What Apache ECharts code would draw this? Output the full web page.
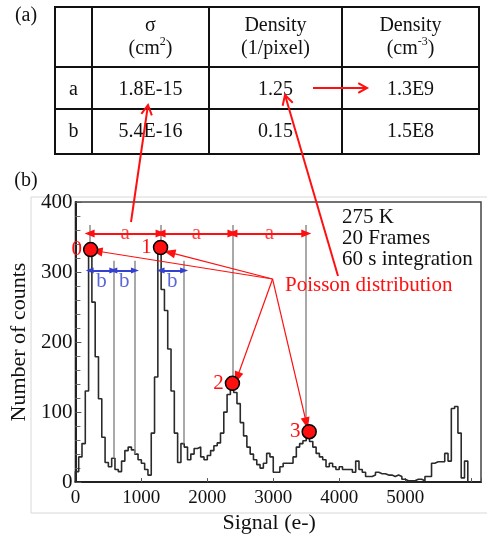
<!DOCTYPE html>
<html>
<head>
<meta charset="utf-8">
<script src="https://cdn.jsdelivr.net/npm/echarts@6/dist/echarts.min.js"></script>
<style>
    html, body { margin: 0; padding: 0; background: #fff; }
    #chart { width: 487px; height: 539px; }
</style>
</head>
<body>
<div id="chart"></div>
<script>
const SERIF = '"Liberation Serif", "Times New Roman", serif';

// histogram, 50 e- bins starting at 0
const binWidth = 50;
const counts = [
    15, 36, 55, 130, 335, 257, 179, 119, 64, 28,
    22, 34, 18, 15, 30, 45, 50, 46, 40, 32,
    27, 18, 10, 70, 150, 335, 275, 245, 190, 130,
    70, 28, 55, 50, 32, 40, 48, 50, 36, 32,
    38, 45, 52, 56, 70, 100, 125, 140, 128, 112,
    85, 66, 50, 40, 32, 25, 20, 27, 41, 36,
    14, 14, 22, 27, 27, 27, 36, 50, 55, 59,
    66, 58, 50, 41, 36, 32, 22, 27, 22, 18,
    22, 18, 18, 18, 14, 30, 18, 14, 8, 8,
    10, 14, 12, 12, 10, 10, 8, 10, 8, 4,
    2, 2, 2, 4, 4, 2, 8, 8, 27, 29,
    29, 29, 41, 30, 105, 108, 70, 6, 30
];

// peaks marked with red dots
const peakNames = ['0', '1', '2', '3'];
const peakSignal = [231, 1291, 2381, 3545];
const peakCounts = [332, 335, 141, 72];

// spacing guides
const aLineSignal = [216, 1291, 2381, 3500];
const aLineTop = 367;
const aArrowLevel = 355;
const bLineSignal = [575, 903, 1649];
const bLineTop = 316;
const bArrowLevel = 302;
const bPairs = [[216, 575], [575, 903], [1291, 1649]];

// arrows from "Poisson distribution" to the peaks
const poissonFrom = [2990, 290];
const poissonTips = [[321, 330], [1425, 328], [2451, 149], [3504, 84]];

const infoLines = ['275 K', '20 Frames', '60 s integration'];
const tableHead = [
    ['σ', '(cm{sup|2})'],
    ['Density', '(1/pixel)'],
    ['Density', '(cm{sup|-3})']
];
const tableRows = [
    ['a', '1.8E-15', '1.25', '1.3E9'],
    ['b', '5.4E-16', '0.15', '1.5E8']
];

function countAt(signal) {
    let i = Math.floor(signal / binWidth);
    return counts[Math.max(0, Math.min(counts.length - 1, i))];
}

function histData() {
    let pts = [[0, 0]];
    counts.forEach((c, i) => pts.push([i * binWidth, c]));
    pts.push([counts.length * binWidth, 0]);
    return pts;
}

function text(x, y, str, opts) {
    opts = opts || {};
    return {
        type: 'text',
        z: 10,
        style: {
            x: x, y: y, text: str,
            fontFamily: SERIF,
            fontSize: opts.size || 20,
            fill: opts.color || '#111',
            align: opts.align || 'center',
            verticalAlign: 'middle',
            textAlign: opts.align || 'center',
            textVerticalAlign: 'middle',
            lineHeight: opts.lineHeight,
            rich: opts.rich
        }
    };
}

function arrow(x1, y1, x2, y2, color, width, head) {
    let ang = Math.atan2(y2 - y1, x2 - x1);
    let a1 = ang + Math.PI - 0.5, a2 = ang + Math.PI + 0.5;
    return [
        { type: 'line', z: 10, shape: { x1: x1, y1: y1, x2: x2, y2: y2 },
          style: { stroke: color, lineWidth: width } },
        { type: 'polyline', z: 10,
          shape: { points: [
              [x2 + head * Math.cos(a1), y2 + head * Math.sin(a1)],
              [x2, y2],
              [x2 + head * Math.cos(a2), y2 + head * Math.sin(a2)]
          ] },
          style: { stroke: color, lineWidth: width, fill: null } }
    ];
}

function buildTable() {
    let els = [];
    let colX = [55, 92, 209, 342, 479];
    let rowY = [7, 67, 109, 154];
    let cx = [73.5, 150.5, 275.5, 410.5];
    colX.forEach(x => els.push({ type: 'line', z: 10,
        shape: { x1: x, y1: rowY[0], x2: x, y2: rowY[3] },
        style: { stroke: '#111', lineWidth: 2 } }));
    rowY.forEach(y => els.push({ type: 'line', z: 10,
        shape: { x1: colX[0] - 1, y1: y, x2: colX[4] + 1, y2: y },
        style: { stroke: '#111', lineWidth: 2 } }));

    let sup = { sup: { fontSize: 12, fontFamily: SERIF, verticalAlign: 'top', fill: '#111' } };
    tableHead.forEach((h, i) => {
        els.push(text(cx[i + 1], 26, h[0]));
        els.push(text(cx[i + 1], 49, h[1], { rich: sup, lineHeight: 26 }));
    });
    tableRows.forEach((row, r) => {
        row.forEach((v, c) => els.push(text(cx[c], r === 0 ? 90 : 132, v)));
    });
    return els;
}

const chart = echarts.init(document.getElementById('chart'));

const red = '#ff1010';
const blue = '#3340d0';

const graphic = [].concat(
    // faint scan frame
    [{ type: 'polyline', z: 0, shape: { points: [[487, 197], [31, 197], [31, 513], [487, 513]] },
       style: { stroke: '#d8d8d8', lineWidth: 1, fill: null } }],
    buildTable(),
    [text(26, 16, '(a)', { size: 20 }), text(26, 181, '(b)', { size: 20 })],
    infoLines.map((t, i) => text(342, 217 + i * 21, t, { align: 'left', size: 21 })),
    [text(285, 285, 'Poisson distribution', { align: 'left', size: 21, color: red })],
    arrow(131, 222, 148, 105, red, 2, 11),
    arrow(338, 276, 285, 95, red, 2, 11),
    arrow(313, 88, 367, 88, red, 2, 10)
);

const option = {
    animation: false,
    backgroundColor: '#fff',
    graphic: graphic,
    grid: {
        left: 69, right: 6, top: 202, bottom: 46,
        show: true, borderColor: '#444', borderWidth: 1.5
    },
    xAxis: {
        type: 'value', min: 0, max: 6150, interval: 1000,
        name: 'Signal (e-)', nameLocation: 'middle', nameGap: 23,
        nameTextStyle: { fontFamily: SERIF, fontSize: 22, color: '#111', padding: [0, 18, 0, 0] },
        axisLine: { lineStyle: { color: '#222', width: 2 } },
        axisTick: { inside: true, length: 4, lineStyle: { color: '#555' } },
        axisLabel: {
            fontFamily: SERIF, fontSize: 19, color: '#111', margin: 6,
            formatter: v => v <= 5000 ? String(v) : ''
        },
        splitLine: { show: false }
    },
    yAxis: {
        type: 'value', min: 0, max: 400, interval: 100,
        name: 'Number of counts', nameLocation: 'middle', nameGap: 36,
        nameTextStyle: { fontFamily: SERIF, fontSize: 22, color: '#111' },
        axisLine: { show: true, lineStyle: { color: '#222', width: 2 } },
        axisTick: { show: true, inside: true, length: 6, lineStyle: { color: '#555' } },
        minorTick: { show: true, splitNumber: 5, length: 5, lineStyle: { color: '#666' } },
        axisLabel: { fontFamily: SERIF, fontSize: 21, color: '#111', margin: 3 },
        splitLine: { show: false }
    },
    series: [
        {
            // vertical guide lines
            type: 'scatter', data: [], z: 1,
            markLine: {
                silent: true, symbol: 'none', animation: false,
                label: { show: false },
                lineStyle: { color: '#8c8c8c', width: 1.5, type: 'solid' },
                data: aLineSignal.map((x, i) => [{ coord: [x, aLineTop] }, { coord: [x, peakCounts[i]] }])
                    .concat(bLineSignal.map(x => [{ coord: [x, bLineTop] }, { coord: [x, countAt(x)] }]))
            }
        },
        {
            type: 'line', step: 'end', showSymbol: false, z: 2,
            data: histData(),
            lineStyle: { color: '#2a2a2a', width: 1.6 }
        },
        {
            // a spacing arrows
            type: 'scatter', data: [], z: 3,
            markLine: {
                silent: true, symbol: ['triangle', 'triangle'], symbolSize: [8, 10],
                label: { show: false },
                lineStyle: { color: red, width: 2, type: 'solid' },
                data: aLineSignal.slice(0, 3).map((x, i) =>
                    [{ coord: [x, aArrowLevel] }, { coord: [aLineSignal[i + 1], aArrowLevel] }])
            }
        },
        {
            // b spacing arrows
            type: 'scatter', data: [], z: 3,
            markLine: {
                silent: true, symbol: ['triangle', 'triangle'], symbolSize: [6, 8],
                label: { show: false },
                lineStyle: { color: blue, width: 2, type: 'solid' },
                data: bPairs.map(p => [{ coord: [p[0], bArrowLevel] }, { coord: [p[1], bArrowLevel] }])
            }
        },
        {
            // Poisson arrows
            type: 'scatter', data: [], z: 3,
            markLine: {
                silent: true, symbol: ['none', 'triangle'], symbolSize: [9, 12],
                label: { show: false },
                lineStyle: { color: red, width: 1.2, type: 'solid' },
                data: poissonTips.map(t => [{ coord: poissonFrom }, { coord: t }])
            }
        },
        {
            // a labels
            type: 'scatter', z: 4, symbolSize: 0,
            data: aLineSignal.slice(0, 3).map((x, i) => [(x + aLineSignal[i + 1]) / 2, aArrowLevel]),
            label: {
                show: true, position: 'inside', formatter: 'a',
                fontFamily: SERIF, fontSize: 21, color: red,
                backgroundColor: '#fff', padding: [0, 6, 2, 6]
            }
        },
        {
            // b labels
            type: 'scatter', z: 4, symbolSize: 0,
            data: bPairs.map(p => [(p[0] + p[1]) / 2, bArrowLevel]),
            label: {
                show: true, position: 'bottom', distance: 0, formatter: 'b',
                fontFamily: SERIF, fontSize: 21, color: blue
            }
        },
        {
            // peak dots
            type: 'scatter', z: 5, symbol: 'circle', symbolSize: 14,
            data: peakSignal.map((x, i) => ({ value: [x, peakCounts[i]], name: peakNames[i] })),
            itemStyle: { color: red, borderColor: '#000', borderWidth: 1.5, opacity: 1 },
            label: {
                show: true, position: 'left', distance: 1, formatter: p => p.name,
                fontFamily: SERIF, fontSize: 21, color: red
            }
        }
    ]
};

chart.setOption(option);
</script>
</body>
</html>
